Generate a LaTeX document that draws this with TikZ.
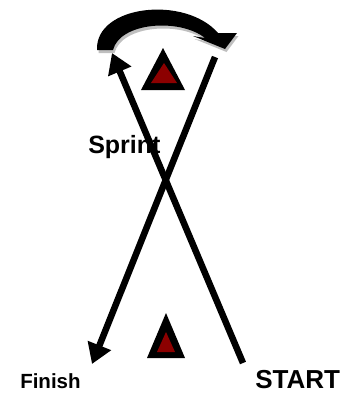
\documentclass[tikz,border=0pt]{standalone}
\usepackage{fontspec}
\setmainfont{Liberation Sans}
\usetikzlibrary{arrows.meta}
\definecolor{conered}{RGB}{140,0,0}

\begin{document}
\begin{tikzpicture}[x=1pt, y=-1pt, >={Triangle[width=24pt,length=20pt]}, line width=6.5pt]
    \useasboundingbox (0,0) rectangle (343,394);
    % cones
    \fill (163,48) -- (185,90) -- (141,90) -- cycle;
    \fill[conered] (164,63) -- (177,83) -- (151,83) -- cycle;
    \fill (166,313) -- (185,358) -- (147,358) -- cycle;
    \fill[conered] (166,332) -- (175,352) -- (157,352) -- cycle;

    \coordinate (start) at (243,363);
    \coordinate (turnin) at (112,53);
    \coordinate (turnout) at (215,57);
    \coordinate (finish) at (92,364);

    \draw[->] (start) -- (turnin);
    \draw[->] (turnout) -- (finish);

    % turn arrow with its shadow
    \fill[black!25, xshift=1.5pt, yshift=-3pt] (97,50) .. controls (95,5) and (185,-5) .. (218,33) -- (237,33) -- (225,49) -- (193,36) -- (205,38) .. controls (180,18) and (120,22) .. (113,50) -- cycle;
    \fill (97,50) .. controls (95,5) and (185,-5) .. (218,33) -- (237,33) -- (225,49) -- (193,36) -- (205,38) .. controls (180,18) and (120,22) .. (113,50) -- cycle;

    \node[font=\bfseries\fontsize{25}{25}\selectfont, anchor=base west, inner sep=0pt] (sprint) at (85,153) {Sprint};
    \node[font=\bfseries\fontsize{20.5}{20.5}\selectfont, anchor=base west, inner sep=0pt] (fin) at (17,388) {Finish};
    \node[font=\bfseries\fontsize{26}{26}\selectfont, anchor=base west, inner sep=0pt] (st) at (252,388) {START};
\end{tikzpicture}
\end{document}
